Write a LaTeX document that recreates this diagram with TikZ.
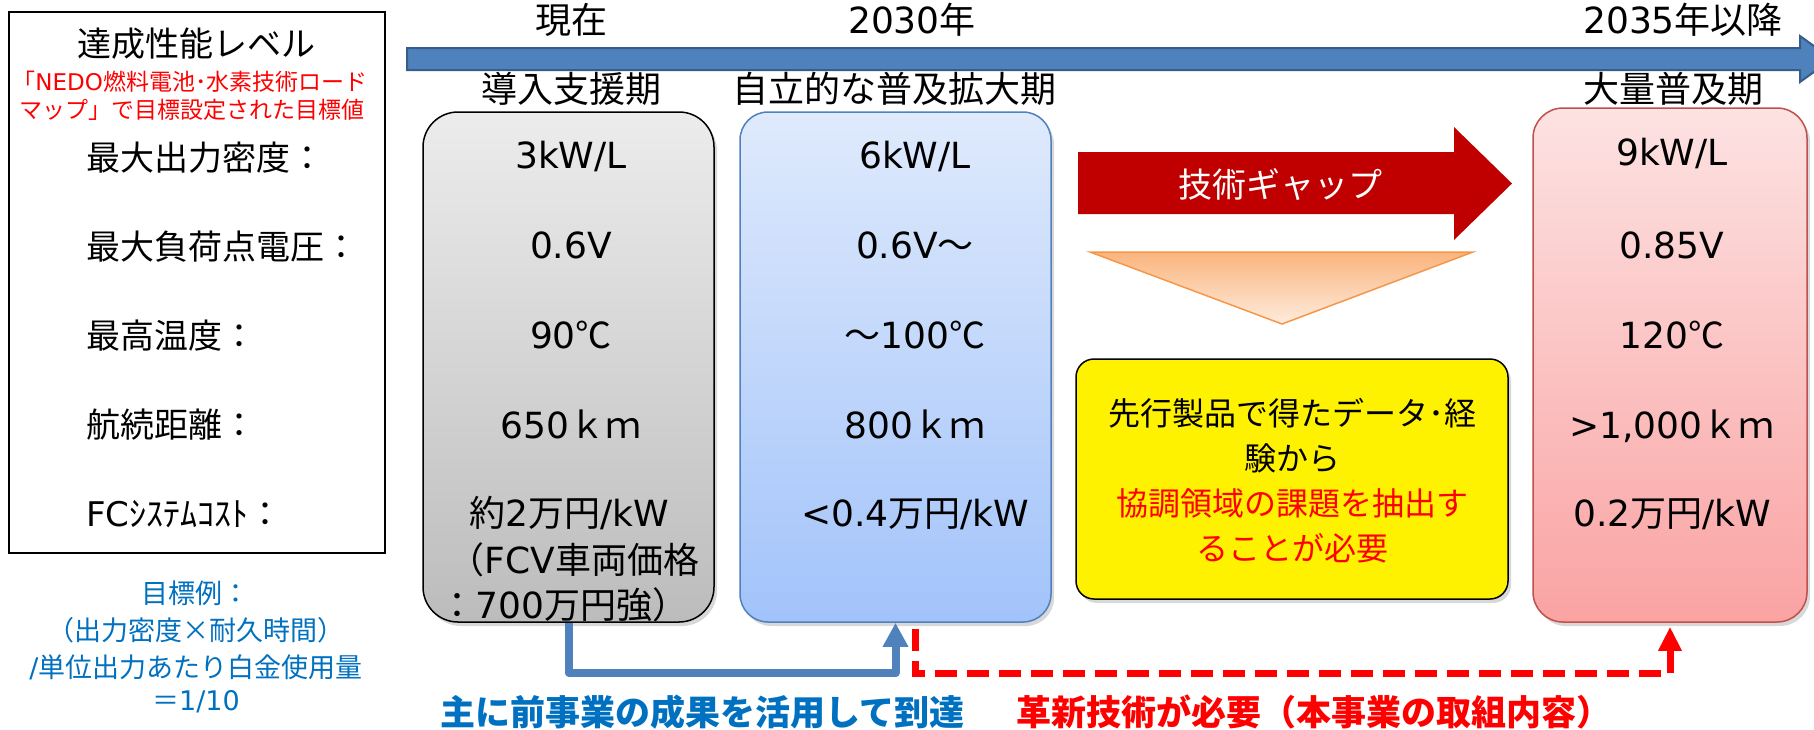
\documentclass[tikz,border=0pt]{standalone}
\usepackage{fontspec}
\setmainfont{Noto Sans CJK JP}
\newfontfamily\lat{DejaVu Sans}
\usetikzlibrary{arrows.meta,shadows}
\newcommand\jfs[1]{\fontsize{#1}{#1}\selectfont}
\definecolor{tlblue}{RGB}{79,129,189}
\definecolor{tldark}{RGB}{56,93,138}
\definecolor{gapred}{RGB}{192,0,0}
\definecolor{orangeln}{RGB}{247,150,70}
\definecolor{noteblue}{RGB}{0,112,192}
\definecolor{redbd}{RGB}{192,80,77}
\tikzset{
  lbl/.style={anchor=base west, inner sep=0pt, font=\jfs{34}},
  hdr/.style={anchor=base, inner sep=0pt, font=\jfs{36}},
  val/.style={anchor=base, inner sep=0pt, font=\jfs{36}},
  ytxt/.style={anchor=base, inner sep=0pt, font=\jfs{32}},
  note/.style={anchor=base, inner sep=0pt, font=\jfs{27}, text=noteblue},
  redsmall/.style={anchor=base, inner sep=0pt, font=\jfs{23}, text=red},
  bottomtxt/.style={anchor=base, inner sep=0pt, font=\bfseries\jfs{35}},
  phase/.style={inner sep=0pt, line width=1.5pt,
    drop shadow={shadow xshift=3pt, shadow yshift=-4pt, opacity=0.3}},
  bluearrow/.style={draw=tlblue, line width=8pt, line join=round,
    -{Triangle[width=24pt,length=24pt]}},
  reddash/.style={draw=red, line width=7pt, dash pattern=on 22pt off 10pt,
    -{Triangle[width=22pt,length=24pt]}}
}
\begin{document}
\begin{tikzpicture}[x=1pt,y=-1pt]
\useasboundingbox (0,0) rectangle (1814,729);
\fill[white] (0,0) rectangle (1814,729);

% timeline arrow
\draw[draw=tldark, line width=2pt, fill=tlblue, line join=miter]
  (407,48) -- (1800,48) -- (1800,36) -- (1832,59) -- (1800,82) -- (1800,70) -- (407,70) -- cycle;

% left level box
\node[draw=black, line width=1.5pt, minimum width=376pt, minimum height=541pt, inner sep=0pt] (lvl) at (197,282.5) {};
\node[anchor=base, inner sep=0pt, font=\jfs{34}] (ttl) at (196,56) {達成性能レベル};
\node[redsmall] (rn1) at (190,90) {「{\lat NEDO}燃料電池･水素技術ロード};
\node[redsmall] (rn2) at (192,118) {マップ」で目標設定された目標値};
\node[lbl] (l1) at (86,170) {最大出力密度：};
\node[lbl] (l2) at (86,259) {最大負荷点電圧：};
\node[lbl] (l3) at (86,348) {最高温度：};
\node[lbl] (l4) at (86,437) {航続距離：};
\node[lbl] (l5) at (86,526) {{\lat FC}ｼｽﾃﾑｺｽﾄ：};

% blue note
\node[note] (n1) at (195,603) {目標例：};
\node[note] (n2) at (196,640) {（出力密度×耐久時間）};
\node[note] (n3) at (196,677) {{\lat /}単位出力あたり白金使用量};
\node[note] (n4) at (196,710) {＝{\lat 1/10}};

% headers
\node[hdr] (h1) at (571,33) {現在};
\node[hdr] (h2) at (912,33) {{\lat 2030}年};
\node[hdr] (h3) at (1683,33) {{\lat 2035}年以降};
\node[hdr] (p1) at (571,102) {導入支援期};
\node[hdr] (p2) at (894,102) {自立的な普及拡大期};
\node[hdr] (p3) at (1673,102) {大量普及期};

% phase boxes
\node[phase, draw=black, top color={rgb,255:red,236;green,236;blue,236}, bottom color={rgb,255:red,188;green,188;blue,188},
  rounded corners=35pt, minimum width=291pt, minimum height=510pt] (gray) at (568.5,367) {};
\node[phase, draw=tlblue, top color={rgb,255:red,223;green,234;blue,252}, bottom color={rgb,255:red,162;green,195;blue,250},
  rounded corners=28pt, minimum width=311pt, minimum height=510pt] (blue) at (895.5,367) {};
\node[phase, draw=redbd, top color={rgb,255:red,253;green,226;blue,226}, bottom color={rgb,255:red,250;green,163;blue,163},
  rounded corners=30pt, minimum width=274pt, minimum height=514pt] (redb) at (1670,365) {};

% gray values
\node[val] (g1) at (571,168) {{\lat 3kW/L}};
\node[val] (g2) at (571,258) {{\lat 0.6V}};
\node[val] (g3) at (571,348) {{\lat 90}℃};
\node[val] (g4) at (571,438) {{\lat 650}ｋｍ};
\node[val] (g5) at (569,526) {約{\lat 2}万円{\lat /kW}};
\node[val] (g6) at (574,573) {（{\lat FCV}車両価格};
\node[val] (g7) at (564,618) {：{\lat 700}万円強）};

% blue values
\node[val] (b1) at (915,168) {{\lat 6kW/L}};
\node[val] (b2) at (915,258) {{\lat 0.6V}～};
\node[val] (b3) at (915,348) {～{\lat 100}℃};
\node[val] (b4) at (915,438) {{\lat 800}ｋｍ};
\node[val] (b5) at (915,526) {{\lat <0.4}万円{\lat /kW}};

% red values
\node[val] (r1) at (1672,165) {{\lat 9kW/L}};
\node[val] (r2) at (1672,258) {{\lat 0.85V}};
\node[val] (r3) at (1672,348) {{\lat 120}℃};
\node[val] (r4) at (1672,438) {{\lat >1,000}ｋｍ};
\node[val] (r5) at (1672,526) {{\lat 0.2}万円{\lat /kW}};

% technology gap arrow
\fill[gapred] (1078,152) -- (1454,152) -- (1454,127) -- (1512,183.5) -- (1454,240) -- (1454,214) -- (1078,214) -- cycle;
\node[anchor=base, inner sep=0pt, font=\jfs{34}, text=white] (gap) at (1280,197) {技術ギャップ};

% orange triangle
\draw[draw=orangeln, line width=1.5pt, top color={rgb,255:red,250;green,180;blue,125}, bottom color={rgb,255:red,254;green,236;blue,222}]
  (1090,252) -- (1473,252) -- (1282,324) -- cycle;

% yellow box
\node[phase, draw=black, fill=yellow, rounded corners=18pt, minimum width=432pt, minimum height=240pt] (yel) at (1292,479) {};
\node[ytxt] (y1) at (1292,425) {先行製品で得たデータ･経};
\node[ytxt] (y2) at (1292,470) {験から};
\node[ytxt, text=red] (y3) at (1292,515) {協調領域の課題を抽出す};
\node[ytxt, text=red] (y4) at (1292,560) {ることが必要};

% connectors
\draw[bluearrow] (gray.south) -- ++(0,50) -| (blue.south);
\draw[reddash] ([xshift=20pt,yshift=-6pt]blue.south) -- ++(0,45) -| ([yshift=-4pt]redb.south);

% bottom texts
\node[bottomtxt, text=noteblue] (bt1) at (702,725) {主に前事業の成果を活用して到達};
\node[bottomtxt, text=red] (bt2) at (1314,725) {革新技術が必要（本事業の取組内容）};
\end{tikzpicture}
\end{document}
